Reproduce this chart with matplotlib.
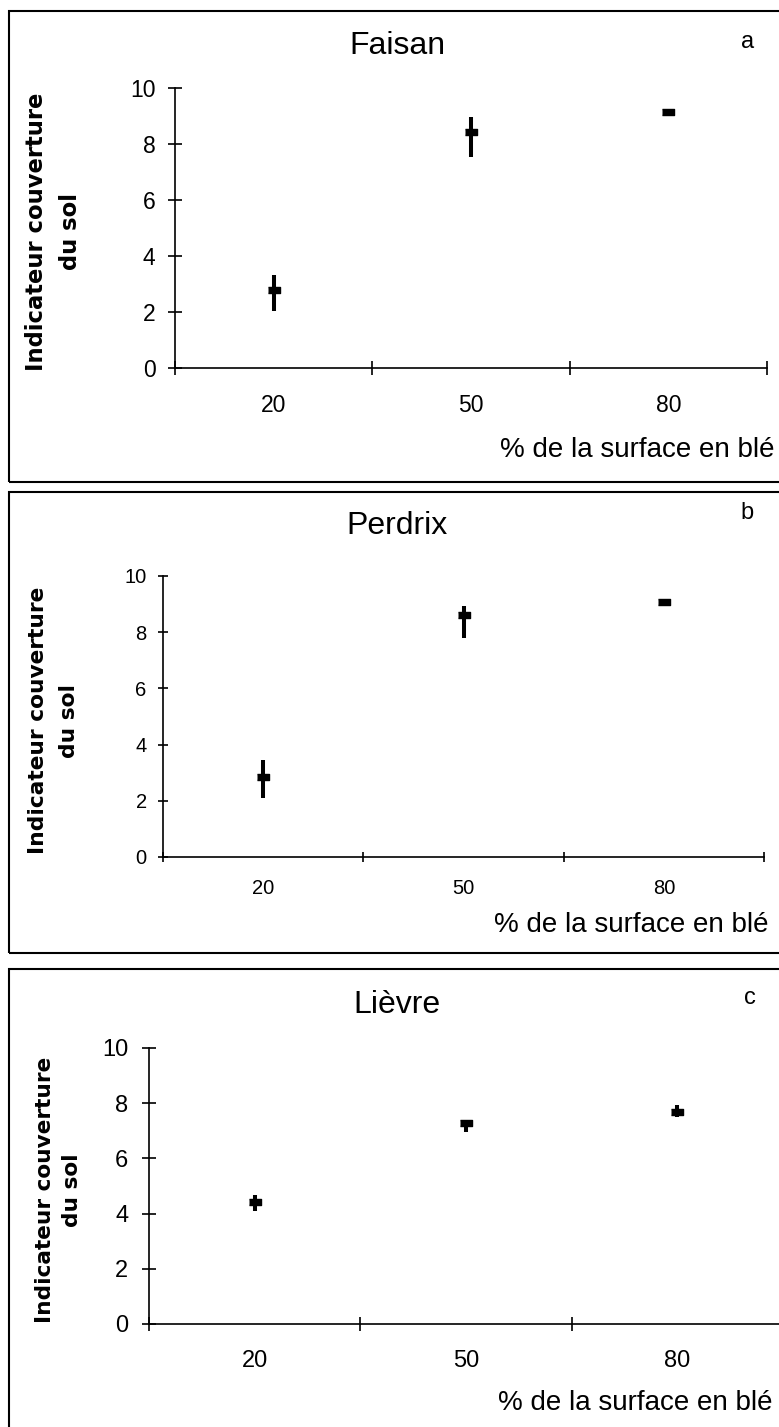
import matplotlib
matplotlib.use('Agg')
import matplotlib.pyplot as plt
from matplotlib.patches import Rectangle

# Données
categories = ['20', '50', '80']
panel_titles = ['Faisan', 'Perdrix', 'Lièvre']
panel_letters = ['a', 'b', 'c']

faisan_mean = [2.8, 8.43, 9.14]
faisan_low = [2.05, 7.54, 9.06]
faisan_high = [3.32, 8.96, 9.2]

perdrix_mean = [2.85, 8.6, 9.07]
perdrix_low = [2.1, 7.8, 9.0]
perdrix_high = [3.45, 8.93, 9.12]

lievre_mean = [4.42, 7.28, 7.68]
lievre_low = [4.1, 6.96, 7.5]
lievre_high = [4.67, 7.39, 7.93]

y_label = 'Indicateur couverture\ndu sol'
x_label = '% de la surface en blé'

W, H = 779, 1427
fig = plt.figure(figsize=(W / 100, H / 100), dpi=100)


def fx(px):
    return px / W


def fy(py):
    return 1 - py / H


FONT = 'Liberation Sans'

# géométrie de chaque panneau (en pixels)
panels = [
    dict(mean=faisan_mean, low=faisan_low, high=faisan_high,
         ax=(175, 767, 88, 368), box=(9, 11, 482), tick_fs=16.5, tick_pad=9, xpad=19,
         tick_len=10, title_y=46, letter_xy=(748, 42), ylab_x=53.5, ylab_ls=1.6,
         ylab_fs=16.3, xlab_xy=(775, 450)),
    dict(mean=perdrix_mean, low=perdrix_low, high=perdrix_high,
         ax=(163, 764, 576, 857), box=(9, 492, 953), tick_fs=14.5, tick_pad=8, xpad=16,
         tick_len=7.5, title_y=526, letter_xy=(747, 513), ylab_x=53.5, ylab_ls=1.7,
         ylab_fs=15.7, xlab_xy=(769, 925)),
    dict(mean=lievre_mean, low=lievre_low, high=lievre_high,
         ax=(149, 783, 1048, 1324), box=(9, 969, 1440), tick_fs=17, tick_pad=10, xpad=19,
         tick_len=10, title_y=1005, letter_xy=(750, 998), ylab_x=58.5, ylab_ls=1.45,
         ylab_fs=15.6, xlab_xy=(772, 1403)),
]

marker_shape = [(-1, -0.55), (1, -0.55), (1, 0.55), (-1, 0.55)]

for i, p in enumerate(panels):
    left, right, top, bottom = p['ax']
    ax = fig.add_axes([fx(left), fy(bottom), (right - left) / W, (bottom - top) / H])

    xpos = [k + 0.5 for k in range(len(categories))]
    yerr = [[m - lo for m, lo in zip(p['mean'], p['low'])],
            [hi - m for m, hi in zip(p['mean'], p['high'])]]
    ax.errorbar(xpos, p['mean'], yerr=yerr, fmt='none', ecolor='black',
                elinewidth=2.9, capsize=0)
    ax.plot(xpos, p['mean'], ls='none', marker=marker_shape, markersize=8.8,
            color='black')

    ax.set_xlim(0, len(categories))
    ax.set_ylim(0, 10)
    ax.set_yticks([0, 2, 4, 6, 8, 10])
    ax.set_xticks([0, 1, 2, 3])
    ax.set_xticklabels([])
    ax.set_xticks(xpos, minor=True)
    ax.set_xticklabels(categories, minor=True)

    for s in ['top', 'right']:
        ax.spines[s].set_visible(False)
    for s in ['left', 'bottom']:
        ax.spines[s].set_linewidth(1.2)

    ax.tick_params(axis='both', which='major', direction='inout', length=p['tick_len'],
                   width=1.2, color='black')
    ax.tick_params(axis='y', labelsize=p['tick_fs'], pad=p['tick_pad'])
    ax.tick_params(axis='x', which='minor', length=0, labelsize=p['tick_fs'], pad=p['xpad'])
    for lab in ax.get_yticklabels() + ax.get_xticklabels(minor=True):
        lab.set_fontfamily(FONT)

    # titre, lettre, étiquettes
    fig.text(fx(397), fy(p['title_y']), panel_titles[i], ha='center', va='center',
             fontsize=23, family=FONT)
    lx, ly = p['letter_xy']
    fig.text(fx(lx), fy(ly), panel_letters[i], ha='center', va='center',
             fontsize=17, family=FONT)
    fig.text(fx(p['ylab_x']), fy((top + bottom) / 2 + 4), y_label, rotation=90,
             ha='center', va='center', multialignment='center',
             fontsize=p['ylab_fs'], family='DejaVu Sans', fontweight='bold',
             linespacing=p['ylab_ls'])
    xx, xy = p['xlab_xy']
    fig.text(fx(xx), fy(xy), x_label, ha='right', va='center', fontsize=20, family=FONT)

    # cadre du panneau
    bx, btop, bbot = p['box']
    fig.add_artist(Rectangle((fx(bx), fy(bbot)), fx(800 - bx), (bbot - btop) / H,
                             transform=fig.transFigure, fill=False, lw=1.5,
                             edgecolor='black'))

fig.savefig('out.png', dpi=100)
